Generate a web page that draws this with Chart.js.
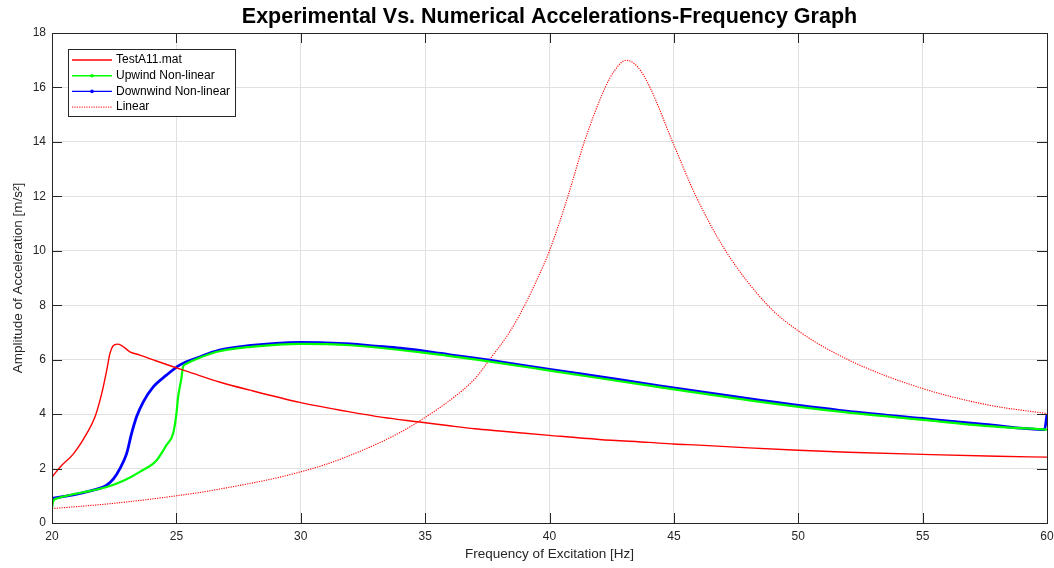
<!DOCTYPE html>
<html>
<head>
<meta charset="utf-8">
<script src="https://cdn.jsdelivr.net/npm/chart.js@4.4.0/dist/chart.umd.min.js"></script>
<style>
  body { margin: 0; background: #fff; }
</style>
</head>
<body>
<canvas id="accChart" width="1054" height="568"></canvas>
<script>
// Experimental vs numerical accelerations

const testFreq = [20, 20.33, 20.87, 21.4, 21.73, 22.0, 22.2, 22.33, 22.45, 22.63, 22.8, 23.13, 23.53, 24.2, 24.87, 25.5, 26.73, 27.95, 29.96, 31.97, 33.3, 34.78, 35.98, 37, 38, 40, 42, 44, 45, 46, 48, 50, 52, 55, 58, 60];
const testAcc = [1.69, 2.06, 2.55, 3.29, 3.9, 4.76, 5.61, 6.23, 6.5, 6.57, 6.52, 6.29, 6.17, 5.95, 5.74, 5.55, 5.18, 4.88, 4.43, 4.08, 3.88, 3.71, 3.57, 3.46, 3.38, 3.22, 3.07, 2.96, 2.9, 2.86, 2.76, 2.67, 2.6, 2.52, 2.45, 2.42];

const upFreq = [20, 20.05, 20.2, 20.86, 21.5, 22.2, 22.87, 23.53, 24.2, 24.6, 24.87, 25.0, 25.07, 25.2, 25.27, 25.4, 25.93, 26.73, 28, 30, 32, 35, 37.6, 40, 44.4, 48.4, 51.65, 55, 57.5, 60];
const upAcc = [0.55, 0.8, 0.9, 1.06, 1.17, 1.32, 1.55, 1.88, 2.3, 2.86, 3.29, 4.0, 4.63, 5.3, 5.74, 5.85, 6.07, 6.31, 6.47, 6.58, 6.53, 6.25, 5.93, 5.6, 4.99, 4.46, 4.09, 3.79, 3.57, 3.43];

const downFreq = [20, 20.5, 21, 21.5, 22, 22.2, 22.47, 22.73, 23.0, 23.2, 23.4, 23.67, 24.07, 24.6, 25.13, 25.93, 26.73, 28, 29, 30, 31, 32, 33, 34, 35.18, 36, 37.59, 39, 41.2, 44.42, 48.43, 51.65, 54.99, 57.5, 59.9, 60];
const downAcc = [0.9, 0.98, 1.06, 1.17, 1.3, 1.39, 1.62, 2.0, 2.55, 3.29, 3.9, 4.45, 5.0, 5.43, 5.8, 6.1, 6.35, 6.52, 6.6, 6.63, 6.62, 6.58, 6.5, 6.42, 6.29, 6.18, 5.98, 5.78, 5.49, 5.04, 4.51, 4.14, 3.84, 3.62, 3.43, 4.0];

const linFreq = [20, 22, 24, 25, 26, 27, 28, 29, 30, 31, 32, 33, 34, 35, 36, 37, 37.59, 38.4, 39.06, 39.5, 40.0, 40.74, 41.4, 42.24, 42.6, 43.08, 43.55, 44.04, 44.95, 45.89, 47.08, 48.77, 50, 52.0, 55, 57.67, 60];
const linAcc = [0.53, 0.68, 0.88, 1.0, 1.13, 1.29, 1.46, 1.65, 1.88, 2.15, 2.49, 2.88, 3.33, 3.88, 4.51, 5.3, 6.0, 7.02, 8.1, 8.95, 10.0, 12.0, 14.0, 16.0, 16.6, 17.0, 16.75, 16.0, 14.0, 12.0, 10.0, 8.0, 7.06, 6.0, 4.94, 4.33, 4.02];

const seriesNames = ["TestA11.mat", "Upwind Non-linear", "Downwind Non-linear", "Linear"];

function toPoints(xs, ys) {
    return xs.map((x, i) => ({x: x, y: ys[i]}));
}

const axisColor = "#262626";
Chart.defaults.font.family = "'Liberation Sans', Arial, sans-serif";
Chart.defaults.color = axisColor;

// MATLAB style box with inward ticks
const axesBox = {
    id: "axesBox",
    afterDatasetsDraw(chart) {
        const {ctx, chartArea: a, scales: {x, y}} = chart;
        ctx.save();
        ctx.strokeStyle = axisColor;
        ctx.lineWidth = 1;
        ctx.beginPath();
        x.ticks.forEach(t => {
            const px = Math.round(x.getPixelForValue(t.value)) + 0.5;
            ctx.moveTo(px, a.bottom);
            ctx.lineTo(px, a.bottom - 10);
            ctx.moveTo(px, a.top);
            ctx.lineTo(px, a.top + 10);
        });
        y.ticks.forEach(t => {
            const py = Math.round(y.getPixelForValue(t.value)) + 0.5;
            ctx.moveTo(a.left, py);
            ctx.lineTo(a.left + 10, py);
            ctx.moveTo(a.right, py);
            ctx.lineTo(a.right - 10, py);
        });
        ctx.stroke();
        ctx.strokeRect(Math.round(a.left) + 0.5, Math.round(a.top) + 0.5,
            Math.round(a.right - a.left), Math.round(a.bottom - a.top));
        ctx.restore();
    }
};

// legend box inside the axes, top left
const boxLegend = {
    id: "boxLegend",
    afterDraw(chart) {
        const ctx = chart.ctx;
        const a = chart.chartArea;
        const bx = a.left + 16, by = a.top + 16, bw = 167, bh = 67;
        ctx.save();
        ctx.fillStyle = "#fff";
        ctx.fillRect(bx, by, bw, bh);
        ctx.strokeStyle = "#262626";
        ctx.lineWidth = 1;
        ctx.strokeRect(bx + 0.5, by + 0.5, bw, bh);
        ctx.font = "12px 'Liberation Sans', Arial, sans-serif";
        ctx.textBaseline = "middle";
        chart.data.datasets.forEach((ds, i) => {
            const ry = by + 11 + i * 15.7;
            ctx.strokeStyle = ds.borderColor;
            ctx.lineWidth = ds.borderDash.length ? 1 : 1.4;
            ctx.setLineDash(ds.borderDash);
            ctx.beginPath();
            ctx.moveTo(bx + 4, ry);
            ctx.lineTo(bx + 44, ry);
            ctx.stroke();
            ctx.setLineDash([]);
            if (ds.legendMarker) {
                ctx.fillStyle = ds.borderColor;
                ctx.beginPath();
                ctx.arc(bx + 24, ry, 1.8, 0, Math.PI * 2);
                ctx.fill();
            }
            ctx.fillStyle = "#000";
            ctx.fillText(ds.label, bx + 48, ry);
        });
        ctx.restore();
    }
};

new Chart("accChart", {
    type: "line",
    data: {
        datasets: [{
            label: seriesNames[0],
            data: toPoints(testFreq, testAcc),
            borderColor: "#ff0000",
            borderWidth: 1.4,
            borderDash: [],
            cubicInterpolationMode: "monotone",
            pointRadius: 0,
        }, {
            label: seriesNames[1],
            data: toPoints(upFreq, upAcc),
            borderColor: "#00ff00",
            borderWidth: 2.2,
            borderDash: [],
            legendMarker: true,
            cubicInterpolationMode: "monotone",
            pointRadius: 0,
        }, {
            label: seriesNames[2],
            data: toPoints(downFreq, downAcc),
            borderColor: "#0000ff",
            borderWidth: 2.8,
            borderDash: [],
            legendMarker: true,
            cubicInterpolationMode: "monotone",
            pointRadius: 0,
        }, {
            label: seriesNames[3],
            data: toPoints(linFreq, linAcc),
            borderColor: "#ff0000",
            borderWidth: 1.1,
            borderDash: [1.2, 1.2],
            cubicInterpolationMode: "monotone",
            pointRadius: 0,
        }],
    },
    options: {
        responsive: false,
        animation: false,
        layout: {
            padding: {left: 0, right: 7, top: 0, bottom: 0}
        },
        scales: {
            x: {
                type: "linear",
                min: 20,
                max: 60,
                afterFit: function (scale) {
                    scale.height = 45;
                    scale.paddingLeft = 0;
                    scale.paddingRight = 0;
                },
                ticks: {
                    stepSize: 5,
                    padding: 6,
                    font: {size: 12},
                    color: axisColor,
                },
                grid: {
                    color: "#e1e1e1",
                    drawTicks: false,
                },
                border: {display: false},
                title: {
                    display: true,
                    text: "Frequency of Excitation [Hz]",
                    font: {size: 13.5},
                    color: axisColor,
                    padding: {top: 0, bottom: 6},
                },
            },
            // top axis only carries the title, so it is centred over the plot
            xTop: {
                type: "linear",
                position: "top",
                display: true,
                min: 20,
                max: 60,
                afterFit: function (scale) {
                    scale.height = 33;
                    scale.paddingLeft = 0;
                    scale.paddingRight = 0;
                },
                ticks: {display: false},
                grid: {display: false, drawTicks: false},
                border: {display: false},
                title: {
                    display: true,
                    text: "Experimental Vs. Numerical Accelerations-Frequency Graph",
                    font: {size: 21.5, weight: "bold"},
                    color: "#000",
                    padding: {top: 4, bottom: 0},
                },
            },
            y: {
                min: 0,
                max: 18,
                afterFit: function (scale) {
                    scale.width = 52;
                },
                ticks: {
                    stepSize: 2,
                    padding: 6,
                    font: {size: 12},
                    color: axisColor,
                },
                grid: {
                    color: "#e1e1e1",
                    drawTicks: false,
                },
                border: {display: false},
                title: {
                    display: true,
                    text: "Amplitude of Acceleration [m/s\u00B2]",
                    font: {size: 13.5},
                    color: axisColor,
                    padding: {top: 10, bottom: 0},
                },
            },
        },
        plugins: {
            legend: {
                display: false
            },
            tooltip: {
                enabled: false
            },
            title: {
                display: false
            },
        },
    },
    plugins: [axesBox, boxLegend],
});
</script>
</body>
</html>
